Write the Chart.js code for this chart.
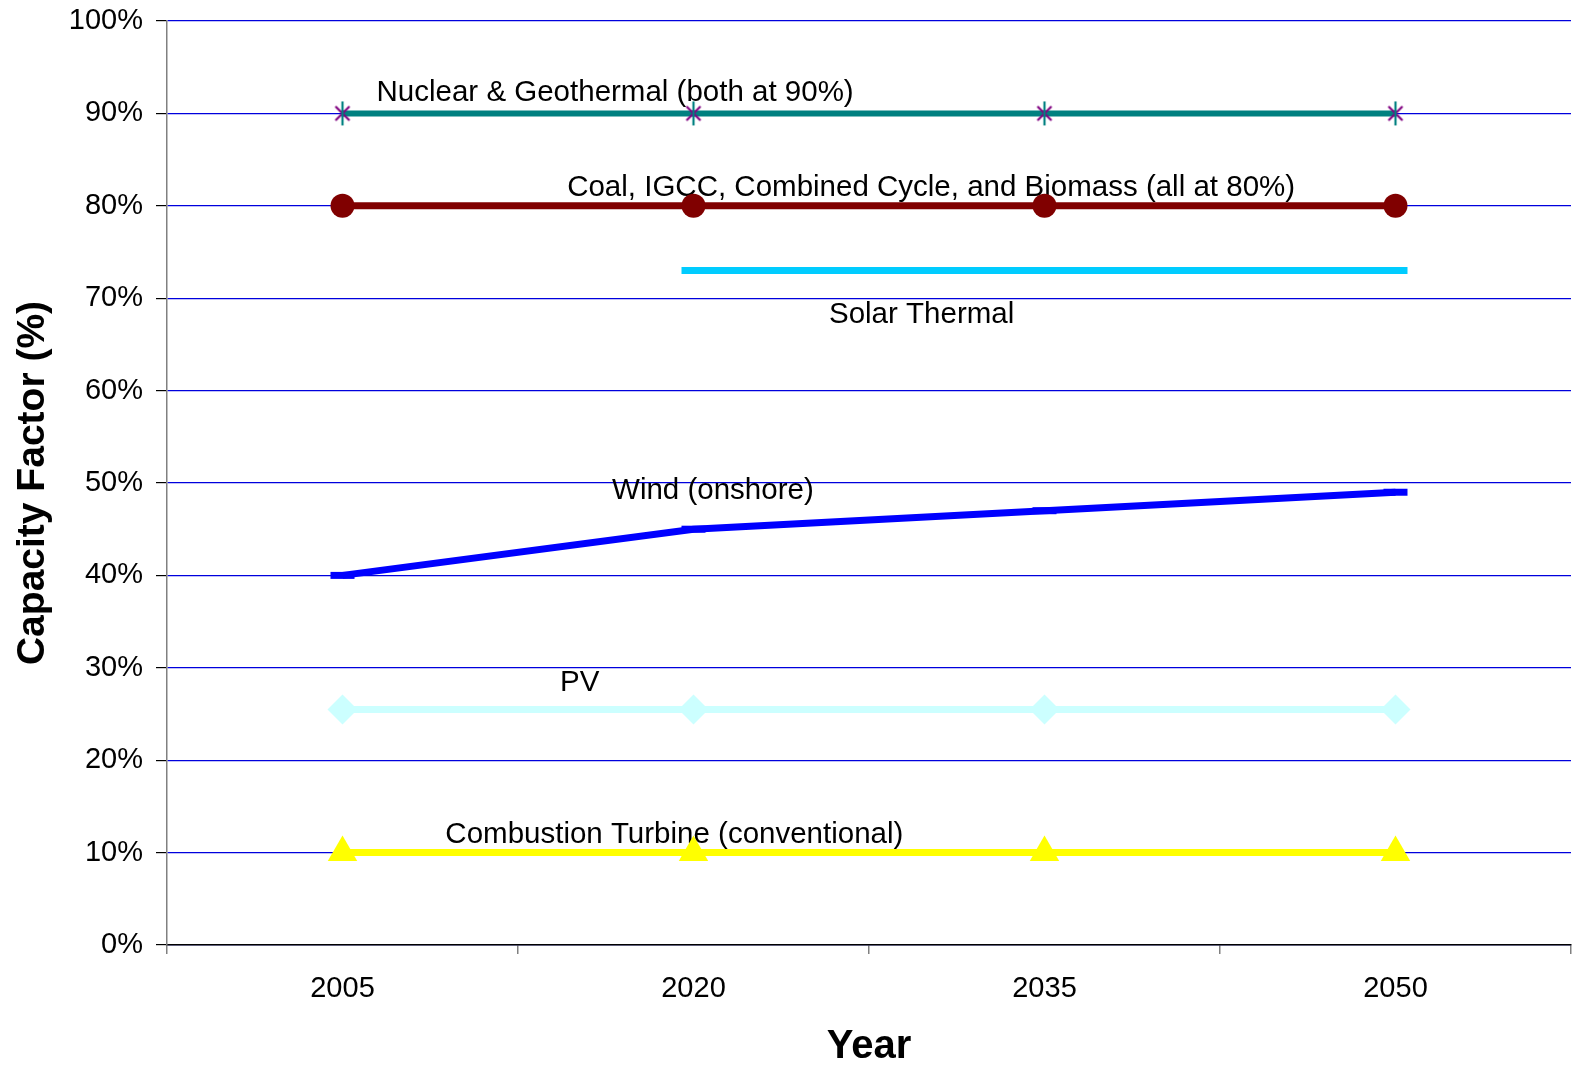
<!DOCTYPE html>
<html>
<head>
<meta charset="utf-8">
<title>Capacity Factor</title>
<script src="https://cdn.jsdelivr.net/npm/chart.js@4.4.1/dist/chart.umd.min.js"></script>
<style>
  html, body { margin: 0; padding: 0; background: #fff; overflow: hidden; }
  #wrap { width: 1579px; height: 1073px; position: relative; }
  #cf-chart { display: block; }
</style>
</head>
<body>
<div id="wrap"><canvas id="cf-chart"></canvas></div>
<script>
'use strict';

/* DATA */
const years = ['2005', '2020', '2035', '2050'];
const nuclearGeo = [90, 90, 90, 90];
const coalEtc = [80, 80, 80, 80];
const solarThermal = [null, 73, 73, 73];
const wind = [40, 45, 47, 49];
const pv = [25.5, 25.5, 25.5, 25.5];
const combustionTurbine = [10, 10, 10, 10];
const yTicks = [0, 10, 20, 30, 40, 50, 60, 70, 80, 90, 100];

// in-chart labels: anchor in category index / percent units
const seriesLabels = [
  { text: 'Nuclear & Geothermal (both at 90%)', at: [0.097, 92.2] },
  { text: 'Coal, IGCC, Combined Cycle, and Biomass (all at 80%)', at: [0.64, 81.9] },
  { text: 'Solar Thermal', at: [1.386, 68.2] },
  { text: 'Wind (onshore)', at: [0.768, 49.2] },
  { text: 'PV', at: [0.62, 28.4] },
  { text: 'Combustion Turbine (conventional)', at: [0.293, 11.9] }
];

const FONT = "Arial, 'Liberation Sans', Helvetica, sans-serif";

/* star marker: purple X with teal upright */
function starMarker() {
  const c = document.createElement('canvas');
  c.width = 20; c.height = 26;
  const g = c.getContext('2d');
  g.lineWidth = 2.2;
  g.strokeStyle = '#800080';
  g.beginPath();
  g.moveTo(3, 6); g.lineTo(17, 20);
  g.moveTo(17, 6); g.lineTo(3, 20);
  g.stroke();
  g.strokeStyle = '#008080';
  g.beginPath();
  g.moveTo(10, 1); g.lineTo(10, 25);
  g.stroke();
  return c;
}

/* labels drawn under the lines, over the grid */
const labelPlugin = {
  id: 'seriesLabels',
  beforeDatasetsDraw(chart) {
    const { ctx, scales: { x, y } } = chart;
    ctx.save();
    ctx.fillStyle = '#000';
    ctx.font = '29.5px ' + FONT;
    ctx.textAlign = 'left';
    ctx.textBaseline = 'middle';
    seriesLabels.forEach(l => {
      ctx.fillText(l.text, x.getPixelForValue(l.at[0]), y.getPixelForValue(l.at[1]));
    });
    ctx.restore();
  }
};

function line(label, data, color, extra) {
  return Object.assign({
    label, data,
    borderColor: color,
    backgroundColor: color,
    borderWidth: 7,
    pointBackgroundColor: color,
    pointBorderColor: color,
    pointBorderWidth: 0,
    pointRadius: 0,
    pointHoverRadius: 0,
    tension: 0,
    spanGaps: false
  }, extra || {});
}

new Chart(document.getElementById('cf-chart'), {
  type: 'line',
  data: {
    labels: years,
    datasets: [
      line('Combustion Turbine (conventional)', combustionTurbine, '#FFFF00', { pointStyle: 'triangle', pointRadius: 17 }),
      line('PV', pv, '#CCFFFF', { pointStyle: 'rectRot', pointRadius: 15 }),
      line('Wind (onshore)', wind, '#0000FF', { pointStyle: 'line', pointRadius: 12, pointBorderWidth: 7 }),
      line('Solar Thermal', solarThermal, '#00CCFF', { pointStyle: 'line', pointRadius: 12, pointBorderWidth: 7 }),
      line('Coal, IGCC, Combined Cycle, and Biomass', coalEtc, '#800000', { pointStyle: 'circle', pointRadius: 12 }),
      line('Nuclear & Geothermal', nuclearGeo, '#008080', { borderWidth: 6, pointStyle: starMarker(), pointRadius: 10 })
    ]
  },
  options: {
    responsive: true,
    maintainAspectRatio: false,
    animation: false,
    layout: { autoPadding: false, padding: { top: 21, right: 8, left: 0, bottom: 0 } },
    plugins: {
      legend: { display: false },
      tooltip: { enabled: false }
    },
    scales: {
      x: {
        type: 'category',
        offset: true,
        afterFit: s => { s.height = 128; s.paddingLeft = 0; s.paddingRight = 0; },
        grid: { offset: true, drawOnChartArea: false, drawTicks: true, tickLength: 9, tickColor: '#808080', lineWidth: 1.5 },
        border: { display: true, color: '#000', width: 1.5 },
        ticks: { color: '#000', font: { family: FONT, size: 29 }, padding: 18, maxRotation: 0 },
        title: { display: true, text: 'Year', color: '#000', font: { family: FONT, size: 40, weight: 'bold' }, padding: { top: 0, bottom: 2 } }
      },
      y: {
        min: 0,
        max: 100,
        afterFit: s => { s.width = 167; s.paddingTop = 0; s.paddingBottom = 0; },
        afterBuildTicks: s => { s.ticks = yTicks.map(v => ({ value: v })); },
        grid: { color: '#0000DD', lineWidth: 1.2, drawTicks: true, tickLength: 11, tickColor: '#000' },
        border: { display: true, color: '#808080', width: 1.5 },
        ticks: { color: '#000', font: { family: FONT, size: 29 }, padding: 13, callback: v => v + '%' },
        title: { display: true, text: 'Capacity Factor (%)', color: '#000', font: { family: FONT, size: 39, weight: 'bold' }, padding: { top: 10, bottom: 0 } }
      }
    }
  },
  plugins: [labelPlugin]
});
</script>
</body>
</html>
